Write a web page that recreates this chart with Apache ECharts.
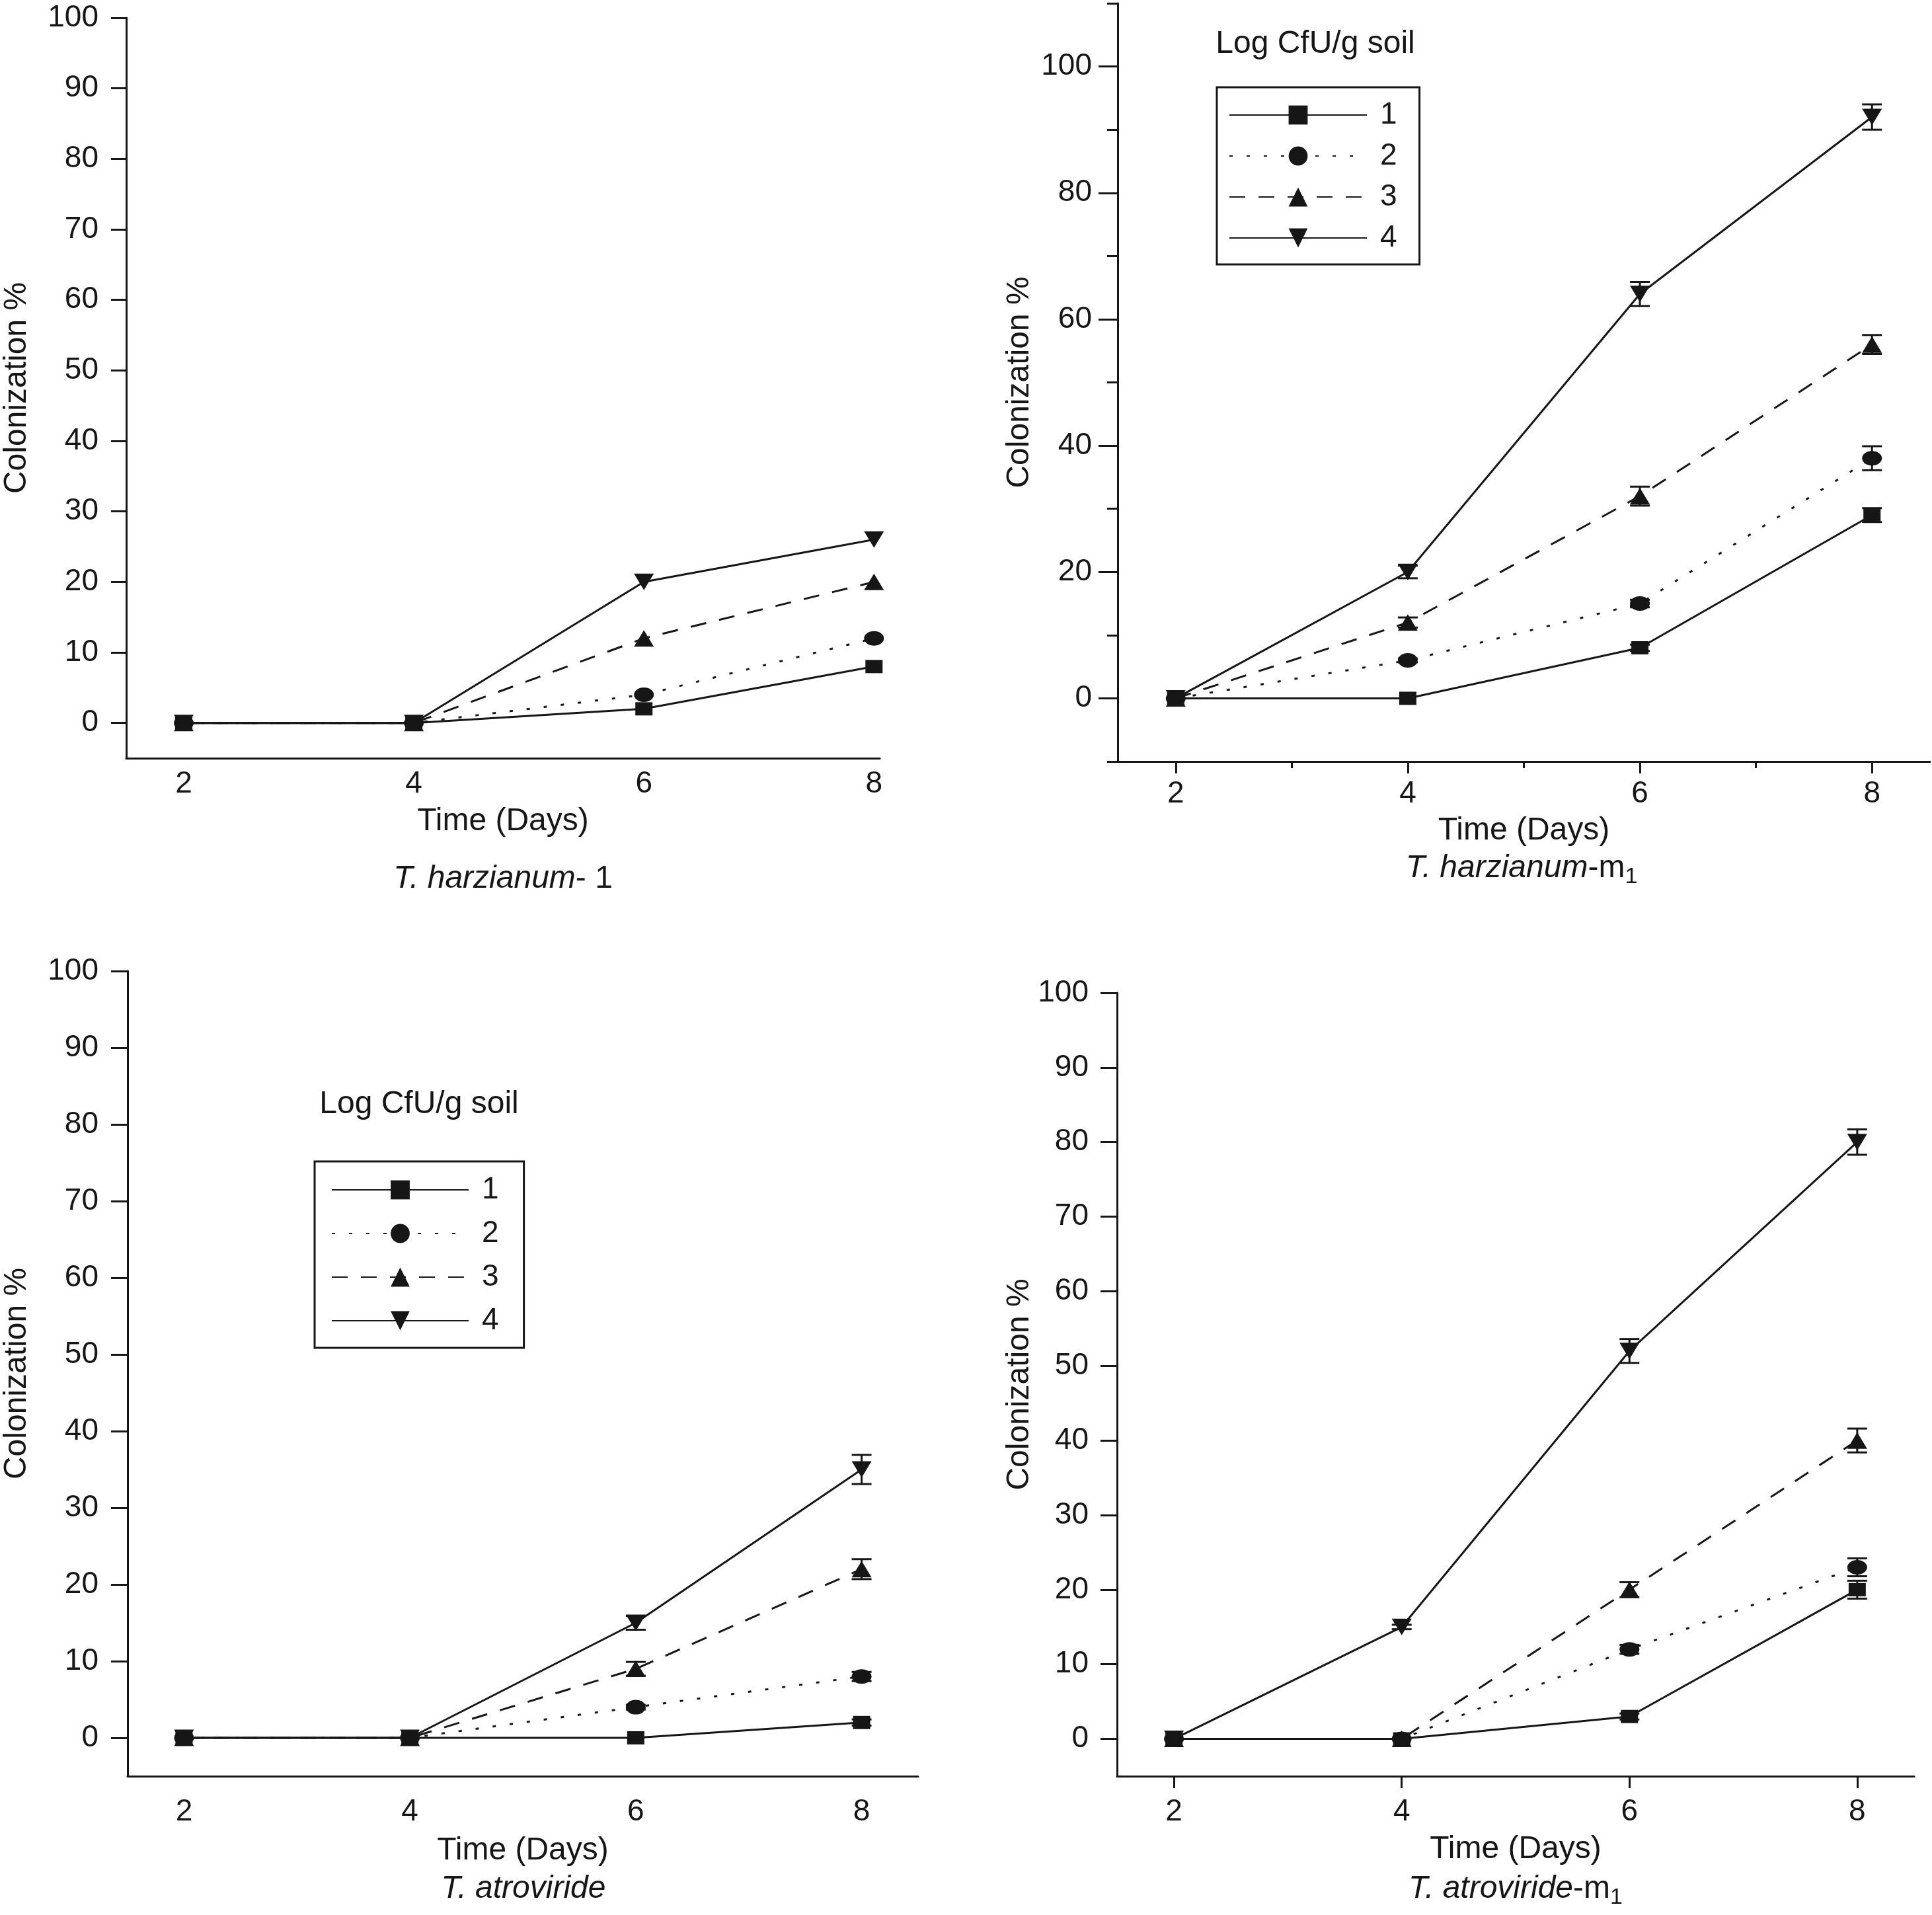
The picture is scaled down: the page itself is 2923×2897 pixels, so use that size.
<!DOCTYPE html>
<html>
<head>
<meta charset="utf-8">
<script src="https://cdn.jsdelivr.net/npm/echarts@6/dist/echarts.min.js"></script>
<style>
html,body{margin:0;padding:0;background:#ffffff;}
#chart{width:2923px;height:2897px;}
</style>
</head>
<body>
<div id="chart"></div>
<script>
// ---------------- data ----------------
const days = [2, 4, 6, 8];
const seriesNames = ['1', '2', '3', '4'];
const xTickLabels = [2, 4, 6, 8];

// Panel A: T. harzianum- 1
const harz1_s1 = [0, 0, 2, 8];
const harz1_s2 = [0, 0, 4, 12];
const harz1_s3 = [0, 0, 12, 20];
const harz1_s4 = [0, 0, 20, 26];
const harz1_err1 = [0, 0, 0, 0];
const harz1_err2 = [0, 0, 0, 0];
const harz1_err3 = [0, 0, 0, 0];
const harz1_err4 = [0, 0, 0, 0];

// Panel B: T. harzianum-m1
const harzM_s1 = [0, 0, 8, 29];
const harzM_s2 = [0, 6, 15, 38];
const harzM_s3 = [0, 12, 32, 56];
const harzM_s4 = [0, 20, 64, 92];
const harzM_err1 = [0, 0, 0.5, 1.1];
const harzM_err2 = [0, 0.3, 0.6, 1.9];
const harzM_err3 = [0, 0.8, 1.5, 1.5];
const harzM_err4 = [0, 1, 1.9, 2];

// Panel C: T. atroviride
const atro_s1 = [0, 0, 0, 2];
const atro_s2 = [0, 0, 4, 8];
const atro_s3 = [0, 0, 9, 22];
const atro_s4 = [0, 0, 15, 35];
const atro_err1 = [0, 0, 0, 0.4];
const atro_err2 = [0, 0, 0.3, 0.6];
const atro_err3 = [0, 0, 0.9, 1.3];
const atro_err4 = [0, 0, 0.9, 1.9];

// Panel D: T. atroviride-m1
const atroM_s1 = [0, 0, 3, 20];
const atroM_s2 = [0, 0, 12, 23];
const atroM_s3 = [0, 0, 20, 40];
const atroM_s4 = [0, 15, 52, 80];
const atroM_err1 = [0, 0, 0.4, 1.2];
const atroM_err2 = [0, 0, 0.6, 1.2];
const atroM_err3 = [0, 0, 1, 1.6];
const atroM_err4 = [0, 0.3, 1.6, 1.7];

// y tick values
const yTicks10 = [0, 10, 20, 30, 40, 50, 60, 70, 80, 90, 100];
const yTicks20 = [0, 20, 40, 60, 80, 100];
const yMinor20 = [-10, 10, 30, 50, 70, 90, 110];
const xMinor = [3, 5, 7];

// ---------------- styles ----------------
const FONT = 'Liberation Sans';
const INK = '#161616';
const ELLIPSE = 'path://M0,10A10,10 0 1,1 20,10A10,10 0 1,1 0,10Z';
const seriesStyles = [
  { symbol: 'rect', symbolSize: [26, 20], symbolRotate: 0, type: 'solid' },
  { symbol: ELLIPSE, symbolSize: [30, 22], symbolRotate: 0, type: [5, 21] },
  { symbol: 'triangle', symbolSize: [30, 25], symbolRotate: 0, type: [24, 20] },
  { symbol: 'triangle', symbolSize: [30, 25], symbolRotate: 180, type: 'solid' }
];

function lineSeries(idx, vals, xi, yi) {
  const st = seriesStyles[idx];
  return {
    type: 'line',
    name: seriesNames[idx],
    xAxisIndex: xi,
    yAxisIndex: yi,
    data: days.map((d, i) => [d, vals[i]]),
    symbol: st.symbol,
    symbolSize: st.symbolSize,
    symbolRotate: st.symbolRotate,
    showAllSymbol: true,
    itemStyle: { color: INK },
    lineStyle: { color: INK, width: 3, type: st.type },
    emphasis: { disabled: true },
    z: 3
  };
}

function errRender(params, api) {
  const x = api.value(0), y = api.value(1), e = api.value(2);
  if (!e) return null;
  const hi = api.coord([x, y + e]);
  const lo = api.coord([x, y - e]);
  const hw = 15;
  const s = { stroke: INK, lineWidth: 3 };
  return {
    type: 'group',
    children: [
      { type: 'line', shape: { x1: hi[0], y1: hi[1], x2: lo[0], y2: lo[1] }, style: s },
      { type: 'line', shape: { x1: hi[0] - hw, y1: hi[1], x2: hi[0] + hw, y2: hi[1] }, style: s },
      { type: 'line', shape: { x1: lo[0] - hw, y1: lo[1], x2: lo[0] + hw, y2: lo[1] }, style: s }
    ]
  };
}

function errSeries(valsList, errList, xi, yi) {
  const rows = [];
  valsList.forEach((vals, k) => {
    days.forEach((d, i) => rows.push([d, vals[i], errList[k][i]]));
  });
  return {
    type: 'custom',
    name: 'err',
    xAxisIndex: xi,
    yAxisIndex: yi,
    renderItem: errRender,
    encode: { x: 0, y: 1 },
    data: rows,
    silent: true,
    z: 4
  };
}

const labelStyle = { fontSize: 46, color: INK, fontFamily: FONT };
const nameStyle = { fontSize: 48, color: INK, fontFamily: FONT };
const axisLineStyle = { onZero: false, lineStyle: { color: INK, width: 3 } };

function xAxisCfg(grid, max, ticks, margin, nameGap) {
  return {
    type: 'value', gridIndex: grid, min: 1.5, max: max, position: 'bottom',
    axisLine: axisLineStyle,
    axisTick: ticks ? { show: true, customValues: ticks, length: 18, lineStyle: { color: INK, width: 3 } } : { show: false },
    axisLabel: Object.assign({ customValues: xTickLabels, margin: margin }, labelStyle),
    splitLine: { show: false },
    name: 'Time (Days)', nameLocation: 'middle', nameGap: nameGap, nameTextStyle: nameStyle
  };
}
function yAxisCfg(grid, min, max, labels, tickLen, margin, nameGap) {
  return {
    type: 'value', gridIndex: grid, min: min, max: max, position: 'left',
    axisLine: axisLineStyle,
    axisTick: { show: true, customValues: labels, length: tickLen, lineStyle: { color: INK, width: 3 } },
    axisLabel: Object.assign({ customValues: labels, margin: margin }, labelStyle),
    splitLine: { show: false },
    name: 'Colonization %', nameLocation: 'middle', nameGap: nameGap, nameTextStyle: nameStyle
  };
}

const xAxes = [
  xAxisCfg(0, 8.05, null, 16, 72),
  xAxisCfg(1, 8.5, xTickLabels, 26, 81),
  {
    type: 'value', gridIndex: 1, min: 1.5, max: 8.5, position: 'bottom',
    axisLine: { show: false, onZero: false },
    axisTick: { show: true, customValues: xMinor, length: 10, lineStyle: { color: INK, width: 3 } },
    axisLabel: { show: false }, splitLine: { show: false }
  },
  xAxisCfg(2, 8.5, null, 31, 89),
  xAxisCfg(3, 8.5, xTickLabels, 31, 87)
];
const yAxes = [
  yAxisCfg(0, -5, 100, yTicks10, 23, 42, 141),
  yAxisCfg(1, -10, 110, yTicks20, 29, 39, 124),
  {
    type: 'value', gridIndex: 1, min: -10, max: 110, position: 'left',
    axisLine: { show: false, onZero: false },
    axisTick: { show: true, customValues: yMinor20, length: 16, lineStyle: { color: INK, width: 3 } },
    axisLabel: { show: false }, splitLine: { show: false }
  },
  yAxisCfg(2, -5, 100, yTicks10, 25, 44, 143),
  yAxisCfg(3, -5, 100, yTicks10, 25, 43, 123)
];

const panels = [
  { xi: 0, yi: 0, vals: [harz1_s1, harz1_s2, harz1_s3, harz1_s4], errs: [harz1_err1, harz1_err2, harz1_err3, harz1_err4] },
  { xi: 1, yi: 1, vals: [harzM_s1, harzM_s2, harzM_s3, harzM_s4], errs: [harzM_err1, harzM_err2, harzM_err3, harzM_err4] },
  { xi: 3, yi: 3, vals: [atro_s1, atro_s2, atro_s3, atro_s4], errs: [atro_err1, atro_err2, atro_err3, atro_err4] },
  { xi: 4, yi: 4, vals: [atroM_s1, atroM_s2, atroM_s3, atroM_s4], errs: [atroM_err1, atroM_err2, atroM_err3, atroM_err4] }
];

const series = [];
panels.forEach(p => {
  series.push(errSeries(p.vals, p.errs, p.xi, p.yi));
  p.vals.forEach((v, k) => series.push(lineSeries(k, v, p.xi, p.yi)));
});

function legendCfg(left, top, itemWidth, itemGap, padding) {
  return {
    show: true, orient: 'vertical', left: left, top: top,
    data: seriesNames,
    itemWidth: itemWidth, itemHeight: 36, itemGap: itemGap,
    padding: padding,
    borderColor: INK, borderWidth: 3, backgroundColor: '#ffffff',
    selectedMode: false,
    textStyle: { fontSize: 46, color: INK, fontFamily: FONT, padding: [0, 0, 0, 15] }
  };
}

const richStyles = {
  i: { fontSize: 48, fontStyle: 'italic', fontFamily: FONT, fill: INK, lineHeight: 60 },
  n: { fontSize: 48, fontFamily: FONT, fill: INK, lineHeight: 60 },
  s: { fontSize: 34, fontFamily: FONT, fill: INK, lineHeight: 24, verticalAlign: 'bottom' }
};
function textEl(x, y, text) {
  return {
    type: 'text', x: x, y: y, silent: true,
    style: { text: text, rich: richStyles, align: 'center', verticalAlign: 'middle', fill: INK, fontSize: 48, fontFamily: FONT }
  };
}

const option = {
  animation: false,
  backgroundColor: '#ffffff',
  textStyle: { fontFamily: FONT },
  grid: [
    { left: 191, top: 27, width: 1140, height: 1120, containLabel: false, outerBoundsMode: 'none' },
    { left: 1691, top: 5, width: 1229, height: 1147, containLabel: false, outerBoundsMode: 'none' },
    { left: 193, top: 1469, width: 1196, height: 1218, containLabel: false, outerBoundsMode: 'none' },
    { left: 1690, top: 1502, width: 1206, height: 1185, containLabel: false, outerBoundsMode: 'none' }
  ],
  xAxis: xAxes,
  yAxis: yAxes,
  legend: [
    legendCfg(1841, 132, 208, 16, [19, 34, 17, 18]),
    legendCfg(476, 1757, 207, 20, [20, 38, 18, 25])
  ],
  graphic: [
    textEl(1990, 67, '{n|Log CfU/g soil}'),
    textEl(634, 1671, '{n|Log CfU/g soil}'),
    textEl(761, 1330, '{i|T. harzianum}{n|- 1}'),
    textEl(2302, 1314, '{i|T. harzianum}{n|-m}{s|1}'),
    textEl(792, 2858, '{i|T. atroviride}'),
    textEl(2293, 2858, '{i|T. atroviride}{n|-m}{s|1}')
  ],
  series: series
};

const chart = echarts.init(document.getElementById('chart'), null, { renderer: 'canvas' });
chart.setOption(option);
</script>
</body>
</html>
